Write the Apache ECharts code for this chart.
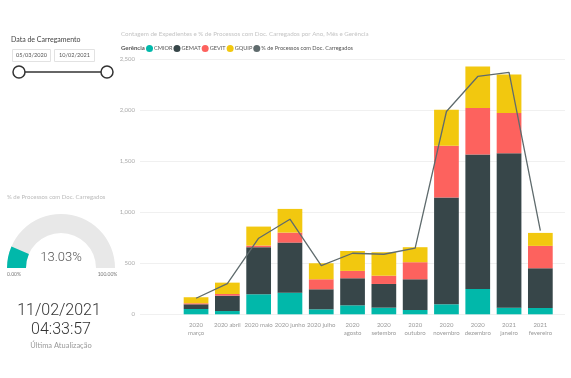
<!DOCTYPE html>
<html>
<head>
<meta charset="utf-8">
<script src="https://cdn.jsdelivr.net/npm/echarts@6/dist/echarts.min.js"></script>
<style>
html,body{margin:0;padding:0;background:#fff;}
#c{width:571px;height:378px;}
</style>
</head>
<body>
<div id="c"></div>
<script>
var categories = ['2020\nmarço','2020 abril','2020 maio','2020 junho','2020 julho','2020\nagosto','2020\nsetembro','2020\noutubro','2020\nnovembro','2020\ndezembro','2021\njaneiro','2021\nfevereiro'];
var cmior = [52, 32, 196, 212, 49, 88, 65, 42, 98, 248, 65, 62];
var gemat = [46, 150, 461, 490, 196, 265, 232, 301, 1045, 1317, 1513, 389];
var gevit = [10, 17, 16, 98, 98, 72, 81, 167, 507, 455, 393, 219];
var gquip = [59, 111, 186, 232, 157, 195, 230, 147, 353, 407, 378, 127];
var pctProcessos = [1.57, 3.0, 7.45, 9.31, 4.76, 5.98, 5.88, 6.47, 19.86, 23.29, 23.69, 8.2];
var yTicks = [0, 500, 1000, 1500, 2000, 2500];
var gaugeValue = 13.03;
var dateFrom = '05/03/2020';
var dateTo = '10/02/2021';
var lastUpdateDate = '11/02/2021';
var lastUpdateTime = '04:33:57';

var FONT = "Lato,'Noto Sans',sans-serif";
var chart = echarts.init(document.getElementById('c'), null, {renderer:'canvas'});

var colors = {CMIOR:'#01B8AA', GEMAT:'#374649', GEVIT:'#FD625E', GQUIP:'#F2C80F', line:'#5F6B6D'};

function bar(name, data, color){
  return {name:name, type:'bar', stack:'total', xAxisIndex:1, yAxisIndex:1, data:data,
    barCategoryGap:'21%', itemStyle:{color:color}, emphasis:{disabled:true}};
}

chart.setOption({
  animation:false,
  textStyle:{fontFamily:FONT},
  title:[
    {text:'Contagem de Expedientes e % de Processos com Doc. Carregados por Ano, Mês e Gerência', left:121, top:31, padding:0,
     textStyle:{fontSize:6.2, fontWeight:'normal', color:'#c4c4c4', fontFamily:FONT}},
    {text:'Gerência', left:121, top:45, padding:0, textStyle:{fontSize:6, fontWeight:'bold', color:'#555', fontFamily:FONT}},
    {text:'Data de Carregamento', left:11, top:36, padding:0, textStyle:{fontSize:7, fontWeight:'normal', color:'#444', fontFamily:FONT}},
    {text:'% de Processos com Doc. Carregados', left:7, top:194, padding:0, textStyle:{fontSize:6, fontWeight:'normal', color:'#bbb', fontFamily:FONT}}
  ],
  legend:{
    left:146, top:45, padding:0, itemWidth:7, itemHeight:7, itemGap:1, icon:'circle',
    textStyle:{fontSize:5.6, color:'#555', fontFamily:FONT, padding:[0,0,0,-4]},
    data:['CMIOR','GEMAT','GEVIT','GQUIP','% de Processos com Doc. Carregados']
  },
  grid:[
    {left:140, right:6, top:59, bottom:63.7},
    {left:180.4, width:375.6, top:59, bottom:63.7}
  ],
  xAxis:[
    {type:'value', gridIndex:0, show:false, min:0, max:1},
    {type:'category', gridIndex:1, data:categories,
     axisLine:{show:false}, axisTick:{show:false},
     axisLabel:{fontSize:6, color:'#999', margin:7, lineHeight:8, interval:0, fontFamily:FONT}}
  ],
  yAxis:[
    {type:'value', gridIndex:0, min:0, max:2500, interval:500,
     axisLine:{show:false}, axisTick:{show:false},
     axisLabel:{fontSize:6, color:'#aaa', margin:5, fontFamily:FONT},
     splitLine:{lineStyle:{color:'#f0f0f0', width:1}}},
    {type:'value', gridIndex:1, min:0, max:2500, interval:500, show:false, splitLine:{show:false}},
    {type:'value', gridIndex:1, min:0, max:25, show:false, splitLine:{show:false}}
  ],
  series:[
    bar('CMIOR', cmior, colors.CMIOR),
    bar('GEMAT', gemat, colors.GEMAT),
    bar('GEVIT', gevit, colors.GEVIT),
    bar('GQUIP', gquip, colors.GQUIP),
    {name:'% de Processos com Doc. Carregados', type:'line', xAxisIndex:1, yAxisIndex:2, data:pctProcessos,
     symbol:'none', lineStyle:{color:colors.line, width:1.3}, itemStyle:{color:colors.line}, z:5},
    {type:'gauge', center:[61,268], radius:54, startAngle:180, endAngle:0, min:0, max:100,
     splitNumber:1,
     axisLine:{lineStyle:{width:19, color:[[1,'#e8e8e8']]}},
     progress:{show:true, width:19, roundCap:false, itemStyle:{color:'#01B8AA'}},
     pointer:{show:false}, axisTick:{show:false}, splitLine:{show:false}, axisLabel:{show:false},
     anchor:{show:false}, title:{show:false},
     detail:{valueAnimation:false, offsetCenter:[0,-10], fontSize:13, fontWeight:300, color:'#555', fontFamily:"Roboto, sans-serif",
       formatter:function(v){return v.toFixed(2)+'%';}},
     data:[{value:gaugeValue}]}
  ],
  graphic:[
    {type:'rect', shape:{x:12.5, y:49.5, width:38, height:12}, style:{fill:'#fff', stroke:'#e2e2e2', lineWidth:1}},
    {type:'text', x:31.5, y:55.5, style:{text:dateFrom, fontSize:5.6, fill:'#555', align:'center', verticalAlign:'middle', fontFamily:FONT}},
    {type:'rect', shape:{x:54.5, y:49.5, width:40, height:12}, style:{fill:'#fff', stroke:'#e2e2e2', lineWidth:1}},
    {type:'text', x:74.5, y:55.5, style:{text:dateTo, fontSize:5.6, fill:'#555', align:'center', verticalAlign:'middle', fontFamily:FONT}},
    {type:'line', shape:{x1:19, y1:72, x2:107, y2:72}, style:{stroke:'#333', lineWidth:1.5}},
    {type:'circle', shape:{cx:19, cy:72, r:6}, style:{fill:'#fff', stroke:'#333', lineWidth:1.5}},
    {type:'circle', shape:{cx:107, cy:72, r:6}, style:{fill:'#fff', stroke:'#333', lineWidth:1.5}},
    {type:'text', x:14, y:274.5, style:{text:'0.00%', fontSize:5, fill:'#777', align:'center', verticalAlign:'middle', fontFamily:FONT}},
    {type:'text', x:107.5, y:274.5, style:{text:'100.00%', fontSize:5, fill:'#777', align:'center', verticalAlign:'middle', fontFamily:FONT}},
    {type:'text', x:59, y:311, style:{text:lastUpdateDate, fontSize:16, fill:'#333', align:'center', verticalAlign:'middle', fontFamily:"Roboto, sans-serif", fontWeight:300}},
    {type:'text', x:61, y:330, style:{text:lastUpdateTime, fontSize:16, fill:'#333', align:'center', verticalAlign:'middle', fontFamily:"Roboto, sans-serif", fontWeight:300}},
    {type:'text', x:61, y:346, style:{text:'Última Atualização', fontSize:7.5, fill:'#999', align:'center', verticalAlign:'middle', fontFamily:FONT}}
  ]
});
</script>
</body>
</html>
